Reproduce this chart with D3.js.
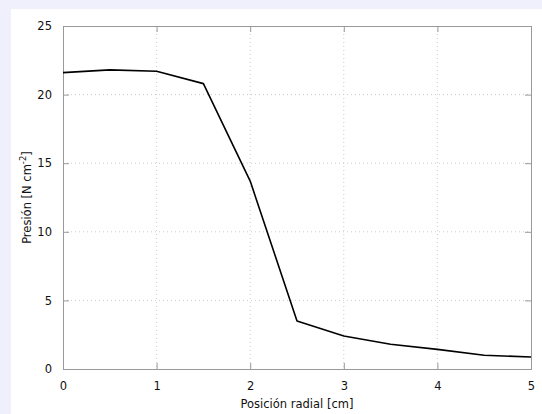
<!DOCTYPE html>
<html>
<head>
<meta charset="utf-8">
<script src="https://cdn.jsdelivr.net/npm/d3@7"></script>
<style>
  body { margin: 0; background: #f0f0fc; }
  svg { display: block; font-family: "DejaVu Sans", sans-serif; }
</style>
</head>
<body>
<div id="chart"></div>
<script>
// radial position [cm] and pressure [N cm^-2]
const posicion = [0, 0.5, 1, 1.5, 2, 2.5, 3, 3.5, 4, 4.5, 5];
const presion = [21.6, 21.8, 21.7, 20.8, 13.7, 3.5, 2.4, 1.8, 1.43, 1.0, 0.88];
const xTicks = [0, 1, 2, 3, 4, 5];
const yTicks = [0, 5, 10, 15, 20, 25];

const W = 542, H = 414;
let margin = { top: 26, bottom: 45, right: 11, left: 63 };
let w = W - margin.left - margin.right;
let h = H - margin.top - margin.bottom;

let svg = d3.select("#chart").append("svg")
    .attr("width", W)
    .attr("height", H);

// white panel
svg.append("rect")
    .attr("x", 11).attr("y", 9)
    .attr("width", W - 11).attr("height", H - 9)
    .attr("fill", "#fff");

let g = svg.append("g")
    .attr("transform", `translate(${margin.left}, ${margin.top})`);

let x = d3.scaleLinear().domain([0, 5]).range([0, w]);
let y = d3.scaleLinear().domain([0, 25]).range([h, 0]);

// dotted grid
g.selectAll(".gx").data(xTicks.slice(1, -1)).enter().append("line")
    .attr("x1", d => x(d)).attr("x2", d => x(d))
    .attr("y1", 0).attr("y2", h)
    .attr("stroke", "#cccccc").attr("stroke-dasharray", "1,3");
g.selectAll(".gy").data(yTicks.slice(1, -1)).enter().append("line")
    .attr("x1", 0).attr("x2", w)
    .attr("y1", d => y(d)).attr("y2", d => y(d))
    .attr("stroke", "#cccccc").attr("stroke-dasharray", "1,3");

// axes with inward ticks, gnuplot style
let fmt = d3.format("d");
let xAxis = d3.axisBottom(x).tickValues(xTicks).tickFormat(fmt).tickSize(-6).tickPadding(13);
let yAxis = d3.axisLeft(y).tickValues(yTicks).tickFormat(fmt).tickSize(-6).tickPadding(11);
let xTop = d3.axisTop(x).tickValues(xTicks).tickSize(-6).tickFormat("");
let yRight = d3.axisRight(y).tickValues(yTicks).tickSize(-6).tickFormat("");

function style(sel) {
  sel.selectAll("path").attr("stroke", "#999");
  sel.selectAll("line").attr("stroke", "#999");
  sel.selectAll("text").attr("fill", "#111").style("font-size", "11.5px")
     .style("font-family", "DejaVu Sans, sans-serif");
}

g.append("g").attr("transform", `translate(0, ${h})`).call(xAxis).call(style);
g.append("g").call(yAxis).call(style);
g.append("g").call(xTop).call(style);
g.append("g").attr("transform", `translate(${w}, 0)`).call(yRight).call(style);

// curve
let line = d3.line()
    .x((d, i) => x(posicion[i]))
    .y(d => y(d));

g.append("path")
    .datum(presion)
    .attr("d", line)
    .attr("fill", "none")
    .attr("stroke", "#000")
    .attr("stroke-width", 1.6)
    .attr("stroke-linejoin", "round");

// axis titles
svg.append("text")
    .attr("x", margin.left + w / 2).attr("y", 408)
    .attr("text-anchor", "middle")
    .style("font-size", "11.5px").attr("fill", "#111")
    .text("Posición radial [cm]");

let yt = svg.append("text")
    .attr("transform", `translate(31, ${margin.top + h / 2}) rotate(-90)`)
    .attr("text-anchor", "middle")
    .style("font-size", "11.5px").attr("fill", "#111");
yt.append("tspan").text("Presión [N cm");
yt.append("tspan").attr("dy", -5).style("font-size", "8.5px").text("-2");
yt.append("tspan").attr("dy", 5).text("]");
</script>
</body>
</html>
